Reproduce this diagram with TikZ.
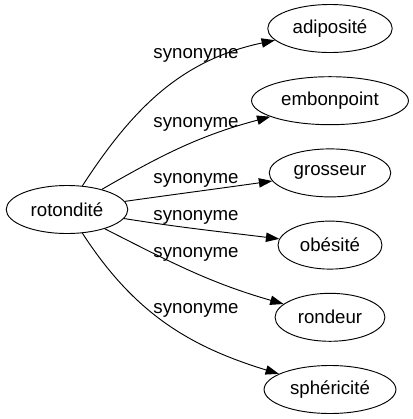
\documentclass[tikz,border=0pt]{standalone}
\usepackage{fontspec}
\setmainfont{Liberation Sans}
\usetikzlibrary{shapes.geometric,arrows.meta}
\begin{document}
\begin{tikzpicture}[x=0.75pt, y=0.75pt, font=\fontsize{14pt}{16pt}\selectfont,
		word/.style={ellipse, draw, line width=0.7pt, minimum height=36pt, inner xsep=5pt, inner ysep=2pt},
		>={Triangle[length=10pt,width=7pt]}]
			\useasboundingbox (0,0) rectangle (412,-419);
			% root word
			\node[word] (root) at (67,-209.5) {rotondité};
			% synonyms, edges and labels
			\foreach \wrd/\yy/\aout/\ain/\ly [count=\p] in {adiposité/28.5/57/192/55, embonpoint/100.7/30/195/124, grosseur/172.9/8/188/180.5, obésité/245.1/-9/173/217.5, rondeur/317.3/-27/164/254, sphéricité/389.5/-57/163/310.5} {
				\node[word] (\p) at (330,-\yy) {\wrd};
				\draw[->, line width=0.7pt] (root) to [out=\aout,in=\ain] (\p);
				\node (l\p) at (196,-\ly) {synonyme};
			};
		\end{tikzpicture}
\end{document}
